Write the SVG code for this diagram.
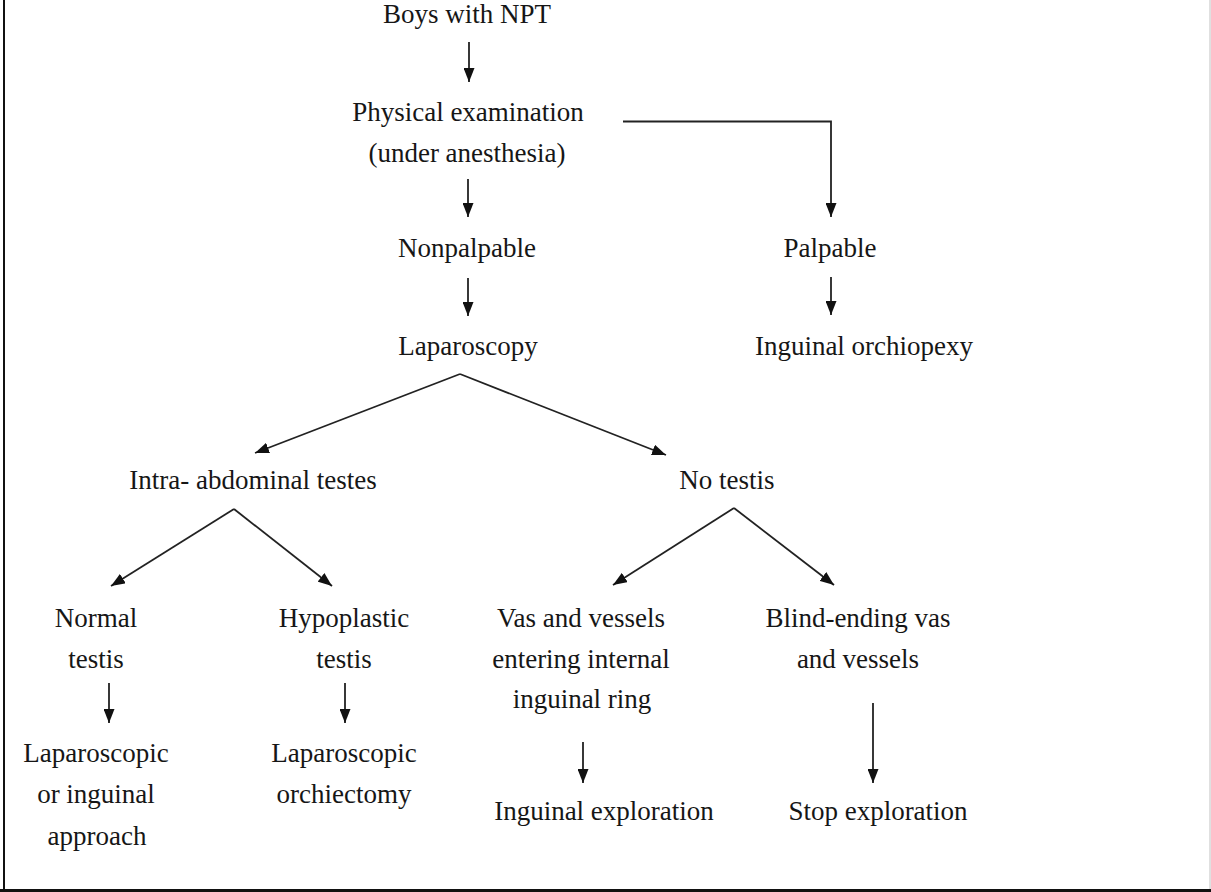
<svg xmlns="http://www.w3.org/2000/svg" width="1211" height="892" viewBox="0 0 1211 892">
<style>
text{font-family:"Liberation Serif","Times New Roman",serif;font-size:27px;fill:#161616;text-anchor:middle}
.c{stroke:#222;stroke-width:1.8;fill:none}
</style>
<defs>
<marker id="ah" markerUnits="userSpaceOnUse" markerWidth="14" markerHeight="11" refX="14" refY="5.5" orient="auto">
<path d="M0,0 L14,5.5 L0,11 z" fill="#111"/>
</marker>
</defs>
<rect width="1211" height="892" fill="#fff"/>
<g id="frame">
<rect x="3" y="0" width="2" height="892" fill="#111"/>
<rect x="0" y="889" width="1211" height="3" fill="#111"/>
<rect x="1209" y="0" width="2" height="889" fill="#e0e0e0"/>
</g>
<g id="connectors">
<line class="c" x1="469" y1="42" x2="469" y2="82" marker-end="url(#ah)"/>
<line class="c" x1="468" y1="179" x2="468" y2="217" marker-end="url(#ah)"/>
<line class="c" x1="468" y1="278" x2="468" y2="316" marker-end="url(#ah)"/>
<path class="c" d="M623,121.5 H831 V217" marker-end="url(#ah)"/>
<line class="c" x1="831" y1="277" x2="831" y2="315" marker-end="url(#ah)"/>
<line class="c" x1="460" y1="374" x2="255" y2="453" marker-end="url(#ah)"/>
<line class="c" x1="460" y1="374" x2="666" y2="455" marker-end="url(#ah)"/>
<line class="c" x1="234" y1="509" x2="111" y2="586" marker-end="url(#ah)"/>
<line class="c" x1="234" y1="509" x2="332" y2="586" marker-end="url(#ah)"/>
<line class="c" x1="734" y1="508" x2="613" y2="585" marker-end="url(#ah)"/>
<line class="c" x1="734" y1="508" x2="834" y2="585" marker-end="url(#ah)"/>
<line class="c" x1="109" y1="683" x2="109" y2="723" marker-end="url(#ah)"/>
<line class="c" x1="345" y1="683" x2="345" y2="723" marker-end="url(#ah)"/>
<line class="c" x1="583" y1="742" x2="583" y2="783" marker-end="url(#ah)"/>
<line class="c" x1="873" y1="703" x2="873" y2="783" marker-end="url(#ah)"/>
</g>
<g id="boys"><text x="467" y="23">Boys with NPT</text></g>
<g id="exam"><text x="468" y="121">Physical examination</text><text x="467" y="162">(under anesthesia)</text></g>
<g id="nonpalpable"><text x="467" y="257">Nonpalpable</text></g>
<g id="palpable"><text x="830" y="257">Palpable</text></g>
<g id="laparoscopy"><text x="468" y="355">Laparoscopy</text></g>
<g id="orchiopexy"><text x="864" y="355">Inguinal orchiopexy</text></g>
<g id="intra"><text x="253" y="489">Intra- abdominal testes</text></g>
<g id="notestis"><text x="727" y="489">No testis</text></g>
<g id="normal"><text x="96" y="627">Normal</text><text x="96" y="668">testis</text></g>
<g id="hypo"><text x="344" y="627">Hypoplastic</text><text x="344" y="668">testis</text></g>
<g id="vas"><text x="581" y="627">Vas and vessels</text><text x="581" y="668">entering internal</text><text x="582" y="708">inguinal ring</text></g>
<g id="blind"><text x="858" y="627">Blind-ending vas</text><text x="858" y="668">and vessels</text></g>
<g id="lapapproach"><text x="96" y="762">Laparoscopic</text><text x="96" y="803">or inguinal</text><text x="97" y="845">approach</text></g>
<g id="orchiectomy"><text x="344" y="762">Laparoscopic</text><text x="344" y="803">orchiectomy</text></g>
<g id="inguinalexp"><text x="604" y="820">Inguinal exploration</text></g>
<g id="stop"><text x="878" y="820">Stop exploration</text></g>
</svg>
